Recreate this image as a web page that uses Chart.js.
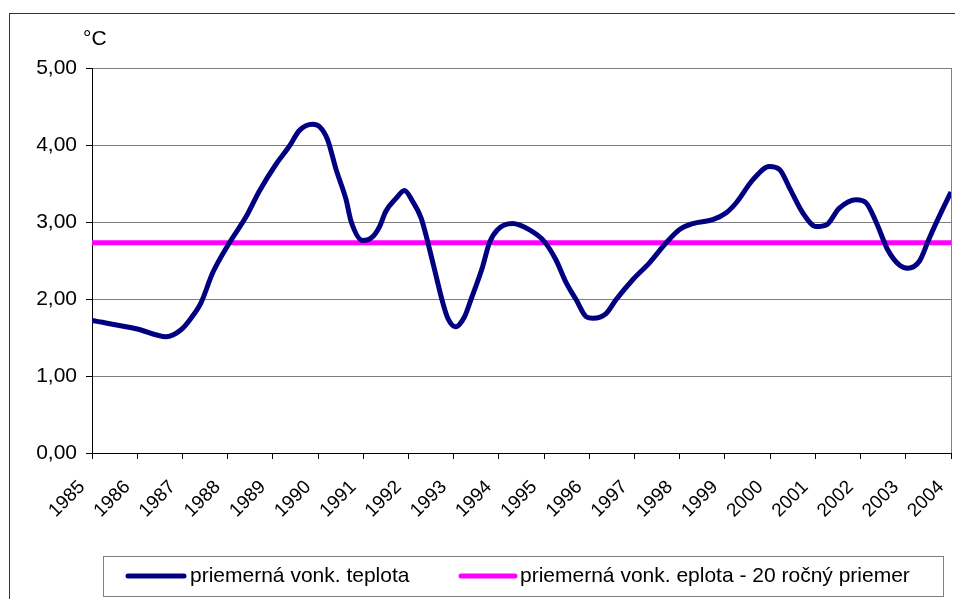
<!DOCTYPE html>
<html>
<head>
    <title>Priemerná vonkajšia teplota 1985-2004</title>
    <script src='https://cdn.jsdelivr.net/npm/chart.js'></script>
    <style>
        html, body { margin: 0; padding: 0; background: #fff; }
        #wrap { width: 955px; height: 599px; position: relative; }
    </style>
</head>
<body>
    <div id="wrap"><canvas id="tempChart" width="955" height="599"></canvas></div>
    <script>
        // data (fractional year, °C)
        const tempYears = [1985.00, 1986.00, 1986.64, 1986.97, 1987.19, 1987.41, 1987.67, 1988.04, 1988.41, 1988.70,
            1989.07, 1989.36, 1989.59, 1989.88, 1990.03, 1990.21, 1990.40, 1990.62, 1990.73, 1990.99,
            1991.21, 1991.36, 1991.50, 1991.73, 1991.91, 1992.09, 1992.28, 1992.54, 1992.76, 1992.87,
            1993.04, 1993.24, 1993.38, 1993.64, 1993.79, 1993.97, 1994.30, 1994.67, 1995.00, 1995.26,
            1995.49, 1995.71, 1995.93, 1996.08, 1996.37, 1996.59, 1996.96, 1997.33, 1997.70, 1997.99,
            1998.29, 1998.73, 1999.03, 1999.25, 1999.62, 1999.98, 2000.21, 2000.43, 2000.72, 2001.02,
            2001.24, 2001.53, 2001.90, 2002.12, 2002.35, 2002.60, 2002.86, 2003.04, 2003.30, 2003.52,
            2003.81, 2004.00];
        const tempValues = [1.72, 1.61, 1.51, 1.60, 1.75, 1.95, 2.34, 2.73, 3.07, 3.40,
            3.75, 3.98, 4.19, 4.27, 4.24, 4.07, 3.68, 3.29, 3.01, 2.76,
            2.81, 2.94, 3.14, 3.31, 3.41, 3.27, 3.05, 2.47, 1.95, 1.75,
            1.64, 1.77, 1.99, 2.42, 2.73, 2.90, 2.98, 2.90, 2.75, 2.51,
            2.21, 1.99, 1.77, 1.75, 1.81, 1.99, 2.25, 2.47, 2.73, 2.90,
            2.98, 3.03, 3.12, 3.25, 3.55, 3.72, 3.68, 3.44, 3.12, 2.94,
            2.96, 3.18, 3.29, 3.25, 2.99, 2.64, 2.44, 2.40, 2.49, 2.79,
            3.16, 3.39];

        const avgYears = [1985, 1986, 1987, 1988, 1989, 1990, 1991, 1992, 1993, 1994,
            1995, 1996, 1997, 1998, 1999, 2000, 2001, 2002, 2003, 2004];
        const avgValues = [2.73, 2.73, 2.73, 2.73, 2.73, 2.73, 2.73, 2.73, 2.73, 2.73,
            2.73, 2.73, 2.73, 2.73, 2.73, 2.73, 2.73, 2.73, 2.73, 2.73];

        const seriesLabels = ['priemerná vonk. teplota', 'priemerná vonk. eplota - 20 ročný priemer'];
        const unitLabel = '°C';

        const FONT = "'Liberation Sans', Arial, sans-serif";

        // frame, unit label and boxed legend, drawn after the chart
        const extras = {
            id: 'extras',
            afterDraw(chart) {
                const ctx = chart.ctx;
                ctx.save();
                ctx.strokeStyle = '#333';
                ctx.lineWidth = 1;
                ctx.strokeRect(9.5, 13.5, 960, 600);

                // plot area border on the right
                const a = chart.chartArea;
                ctx.strokeStyle = '#808080';
                ctx.beginPath();
                ctx.moveTo(a.right + 0.5, a.top);
                ctx.lineTo(a.right + 0.5, a.bottom);
                ctx.stroke();

                ctx.fillStyle = '#000';
                ctx.font = '21px ' + FONT;
                ctx.textBaseline = 'alphabetic';
                ctx.textAlign = 'left';
                ctx.fillText(unitLabel, 83, 45);

                // legend
                ctx.strokeStyle = '#808080';
                ctx.strokeRect(103.5, 556.5, 840, 40);
                const entries = [
                    { x0: 128, x1: 184, tx: 190 },
                    { x0: 461, x1: 515, tx: 520 }
                ];
                chart.data.datasets.forEach((ds, i) => {
                    const e = entries[i];
                    ctx.strokeStyle = ds.borderColor;
                    ctx.lineWidth = 5;
                    ctx.lineCap = 'round';
                    ctx.beginPath();
                    ctx.moveTo(e.x0, 576);
                    ctx.lineTo(e.x1, 576);
                    ctx.stroke();
                    ctx.fillStyle = '#000';
                    ctx.textBaseline = 'middle';
                    ctx.fillText(ds.label, e.tx, 576);
                });
                ctx.restore();
            }
        };

        new Chart(document.getElementById('tempChart').getContext('2d'), {
            type: 'line',
            data: {
                datasets: [{
                    label: seriesLabels[0],
                    data: tempYears.map((y, i) => ({ x: y, y: tempValues[i] })),
                    borderColor: '#000080',
                    borderWidth: 5,
                    pointRadius: 0,
                    cubicInterpolationMode: 'monotone',
                    fill: false
                }, {
                    label: seriesLabels[1],
                    data: avgYears.map((y, i) => ({ x: y, y: avgValues[i] })),
                    borderColor: '#ff00ff',
                    borderWidth: 5,
                    pointRadius: 0,
                    fill: false
                }]
            },
            options: {
                responsive: false,
                animation: false,
                layout: { padding: { top: 68, right: 4, left: 0, bottom: 0 } },
                plugins: {
                    legend: { display: false },
                    tooltip: { enabled: false }
                },
                scales: {
                    x: {
                        type: 'linear',
                        min: 1985,
                        max: 2004,
                        afterFit: (s) => { s.height = 146; s.paddingLeft = 0; s.paddingRight = 0; },
                        grid: {
                            drawOnChartArea: false,
                            color: '#000',
                            tickLength: 6
                        },
                        border: { color: '#000', width: 1 },
                        ticks: {
                            stepSize: 1,
                            autoSkip: false,
                            minRotation: 45,
                            maxRotation: 45,
                            padding: 17,
                            labelOffset: -10,
                            color: '#000',
                            font: { family: FONT, size: 19 },
                            callback: (v) => String(v)
                        }
                    },
                    y: {
                        min: 0,
                        max: 5,
                        afterFit: (s) => { s.width = 92; },
                        grid: {
                            color: '#808080',
                            tickColor: '#000',
                            tickLength: 6
                        },
                        border: { color: '#000', width: 1 },
                        ticks: {
                            stepSize: 1,
                            padding: 9,
                            color: '#000',
                            font: { family: FONT, size: 21 },
                            callback: (v) => v.toFixed(2).replace('.', ',')
                        }
                    }
                }
            },
            plugins: [extras]
        });
    </script>
</body>
</html>
